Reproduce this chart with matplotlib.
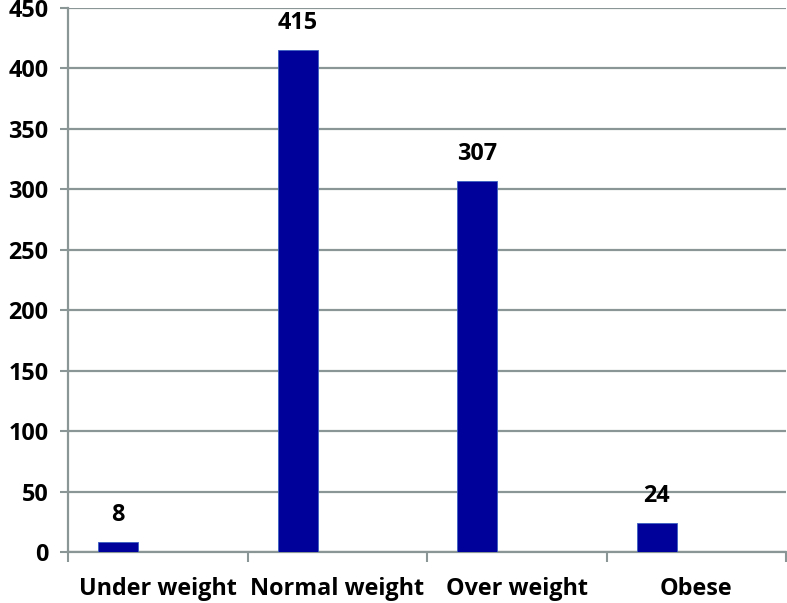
import matplotlib
matplotlib.use("Agg")
import matplotlib.pyplot as plt
import numpy as np

categories = ["Under weight", "Normal weight", "Over weight", "Obese"]
values = [8, 415, 307, 24]
yticks = [0, 50, 100, 150, 200, 250, 300, 350, 400, 450]

plt.rcParams['font.family'] = ['Open Sans', 'DejaVu Sans']

fig = plt.figure(figsize=(7.87, 6.03), dpi=100)
ax = fig.add_axes([68/787, 1-552/603, 718/787, 544/603])

x = np.arange(len(categories))
bw = 0.223
ax.bar(x - 0.221, values, width=bw, color='#00009A', edgecolor='#3b5fc0', linewidth=0.6, zorder=3)

FS = 16.8
for xi, v in zip(x, values):
    ax.annotate(str(v), (xi - 0.221, v), xytext=(0, 11), textcoords='offset points',
                ha='center', va='bottom', fontsize=FS, fontweight='bold', color='black')

ax.set_xlim(-0.5, len(categories) - 0.5)
ax.set_ylim(0, 450)
ax.set_yticks(yticks)
ax.set_yticklabels([str(t) for t in yticks], fontsize=FS, fontweight='bold')
ax.yaxis.grid(True, color='#8a9696', linewidth=1.6, zorder=0)
ax.set_axisbelow(True)

ax.set_xticks(np.arange(-0.5, len(categories), 1.0))
ax.set_xticklabels([])
ax.set_xticks(x, minor=True)
ax.set_xticklabels(categories, minor=True, fontsize=FS, fontweight='bold')
ax.tick_params(axis='x', which='minor', length=0, pad=18)
ax.tick_params(axis='x', which='major', length=7, width=1.5, color='#8a9696', direction='out')
ax.tick_params(axis='y', length=6, width=1.5, color='#8a9696', pad=8)

for s in ['top', 'right']:
    ax.spines[s].set_visible(False)
for s in ['left', 'bottom']:
    ax.spines[s].set_color('#8a9696')
    ax.spines[s].set_linewidth(1.6)

fig.savefig("out.png", dpi=100)
